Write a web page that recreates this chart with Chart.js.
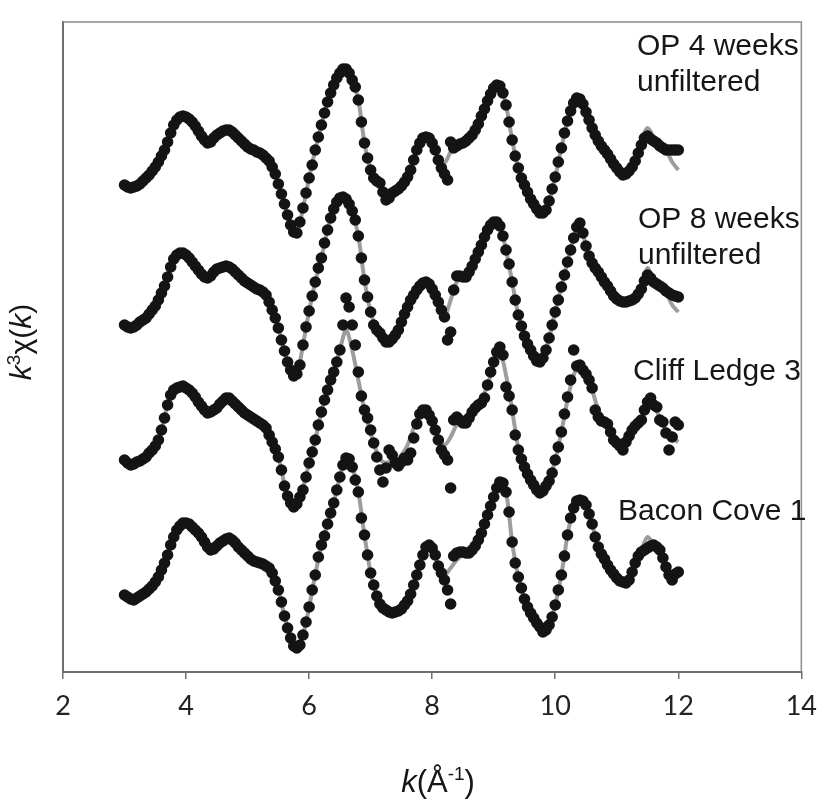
<!DOCTYPE html>
<html lang="en">
<head>
  <meta charset="UTF-8">
  <title>k3 chi(k) - EXAFS</title>
  <script src="https://cdn.jsdelivr.net/npm/chart.js"></script>
  <style>
    html, body {
      margin: 0;
      background: #fff;
    }
    #wrap {
      width: 828px;
      height: 808px;
    }
  </style>
</head>
<body>
  <div id="wrap">
    <canvas id="exafs" width="828" height="808"></canvas>
  </div>

  <script>
    // k grid: data every 0.05, fit every 0.1, both from 3.0 to 12.0
    const kStart = 3.0;
    const kStepData = 0.05;
    const kStepFit = 0.1;

    const xTicks = [2, 4, 6, 8, 10, 12, 14];

    const sampleLabels = [
      ['OP 4 weeks', 'unfiltered'],
      ['OP 8 weeks', 'unfiltered'],
      ['Cliff Ledge 3'],
      ['Bacon Cove 1']
    ];

    // vertical stacking offsets of each spectrum
    const offsets = [52.2, 37.2, 22.2, 7.2];

    // measured k3chi(k), OP 4 weeks unfiltered
    const op4Data = [
      -3.5, -3.7, -3.8, -3.7, -3.6, -3.4, -3.1, -2.8, -2.5, -2.1,
      -1.7, -1.2, -0.6, 0, 0.8, 1.7, 2.5, 3.0, 3.3, 3.4,
      3.3, 3.1, 2.8, 2.4, 1.9, 1.4, 1.0, 0.7, 0.8, 1.2,
      1.5, 1.7, 1.9, 2.0, 2.0, 1.8, 1.5, 1.2, 0.9, 0.6,
      0.3, 0.1, 0, -0.2, -0.3, -0.5, -0.8, -1.1, -1.7, -2.4,
      -3.4, -4.4, -5.4, -6.5, -7.5, -8.2, -8.3, -7.2, -5.8, -4.3,
      -2.8, -1.5, 0, 1.3, 2.5, 3.7, 4.8, 5.7, 6.5, 7.2,
      7.7, 8.1, 8.1, 7.7, 7.0, 6.3, 5.0, 2.8, 0.7, -0.8,
      -2.0, -2.8, -3.1, -3.3, -4.2, -5.0, -4.8, -4.3, -4.1, -3.9,
      -3.6, -3.2, -2.7, -2.0, -1.0, 0, 0.7, 1.2, 1.3, 1.2,
      0.7, 0, -1.0, -1.8, -2.4, -3.0, 0.8, 0.2, 0.4, 0.6,
      0.7, 0.9, 1.2, 1.5, 2.0, 2.6, 3.4, 4.1, 4.9, 5.6,
      6.2, 6.5, 6.4, 5.7, 4.5, 2.8, 1.0, -0.6, -1.8, -2.8,
      -3.5, -4.2, -4.9, -5.4, -5.9, -6.3, -6.3, -6.0, -5.1, -3.9,
      -2.7, -1.2, 0.2, 1.7, 2.9, 3.9, 4.7, 5.2, 5.1, 4.6,
      3.8, 3.0, 2.2, 1.5, 0.9, 0.4, 0, -0.4, -0.9, -1.4,
      -1.8, -2.2, -2.5, -2.4, -2.1, -1.7, -1.1, -0.3, 0.5, 1.2,
      1.4, 1.1, 0.9, 0.7, 0.4, 0.2, 0, 0, 0, 0,
      0
    ];

    // measured k3chi(k), OP 8 weeks unfiltered
    const op8Data = [
      -2.5, -2.7, -2.8, -2.7, -2.5, -2.2, -2.0, -1.8, -1.4, -1.0,
      -0.6, 0, 0.7, 1.4, 2.3, 3.3, 4.1, 4.5, 4.7, 4.7,
      4.5, 4.2, 3.8, 3.4, 3.0, 2.6, 2.3, 2.2, 2.4, 2.8,
      3.1, 3.2, 3.3, 3.4, 3.3, 3.1, 2.8, 2.5, 2.2, 1.9,
      1.7, 1.5, 1.3, 1.1, 1.0, 0.8, 0.5, -0.2, -1.0, -1.8,
      -2.8, -4.0, -5.1, -6.2, -7.0, -7.6, -7.4, -6.5, -4.5, -2.7,
      -1.1, 0.4, 1.8, 3.2, 4.2, 5.7, 7.0, 8.2, 9.1, 9.8,
      10.2, 10.3, 10.1, 9.6, 8.9, 8.0, 6.4, 4.2, 2.0, 0.3,
      -1.2, -2.5, -3.0, -3.3, -3.8, -4.2, -4.2, -3.9, -3.5, -3.0,
      -2.2, -1.4, -0.7, 0, 0.5, 1.0, 1.4, 1.7, 1.8, 1.6,
      1.1, 0.5, -0.2, -1.0, -1.7, -4.0, -3.2, 1.0, 2.4, 2.4,
      2.3, 2.3, 2.8, 3.4, 4.1, 4.8, 5.5, 6.3, 7.0, 7.5,
      7.8, 7.8, 7.4, 6.4, 5.0, 3.6, 1.8, 0, -1.5, -2.6,
      -3.6, -4.4, -5.0, -5.6, -6.1, -6.2, -5.8, -5.0, -3.8, -2.5,
      -1.2, 0, 1.3, 2.5, 3.8, 5.0, 6.2, 7.3, 7.7, 6.7,
      5.4, 4.4, 3.7, 3.2, 2.8, 2.3, 1.8, 1.4, 0.9, 0.4,
      0.1, -0.1, -0.2, -0.2, -0.1, 0, 0.2, 0.6, 1.1, 1.9,
      2.5, 2.2, 1.8, 1.6, 1.4, 1.2, 0.9, 0.7, 0.5, 0.4,
      0.3
    ];

    // measured k3chi(k), Cliff Ledge 3
    const cliffData = [
      -1.0, -1.3, -1.5, -1.4, -1.2, -1.1, -0.9, -0.7, -0.3, 0,
      0.4, 1.0, 2.0, 3.2, 4.5, 5.5, 6.0, 6.2, 6.3, 6.4,
      6.2, 6.0, 5.7, 5.3, 4.8, 4.4, 4.0, 3.7, 3.8, 4.0,
      4.2, 4.6, 4.9, 5.2, 5.2, 4.9, 4.6, 4.3, 4.0, 3.7,
      3.5, 3.3, 3.1, 2.9, 2.7, 2.5, 2.2, 1.5, 0.8, 0.1,
      -0.7, -2.0, -3.6, -4.6, -5.3, -5.7, -5.4, -4.7, -4.0, -2.7,
      -1.3, -0.2, 1.0, 2.5, 3.8, 5.0, 6.0, 7.0, 7.8, 8.8,
      10.0, 12.5, 15.2, 14.3, 12.5, 10.5, 7.8, 5.4, 4.0, 3.2,
      2.0, 0.7, -0.7, -2.0, -3.2, -1.8, 0, -0.5, -1.3, -1.6,
      -1.2, -0.8, -1.0, -0.3, 1.2, 2.6, 3.6, 4.0, 4.0, 3.5,
      2.9, 2.0, 1.0, 0, -0.5, -1.0, -3.8, 3.0, 3.3, 3.0,
      2.7, 2.7, 3.2, 3.8, 4.2, 4.5, 4.7, 5.2, 6.5, 7.8,
      8.8, 9.8, 10.3, 9.5, 6.3, 5.4, 4.0, 1.5, 0, -0.9,
      -1.7, -2.4, -3.0, -3.5, -4.0, -4.3, -4.1, -3.6, -3.1, -2.3,
      -1.0, 0.3, 1.8, 3.6, 5.3, 7.0, 10.0, 8.4, 8.5, 8.0,
      7.6, 7.0, 6.2, 4.0, 3.3, 2.9, 2.8, 2.6, 1.8, 1.0,
      0.7, 0.4, 0, 0.8, 1.4, 2.0, 2.4, 2.7, 3.0, 4.0,
      4.8, 5.2, 4.5, 4.3, 3.0, 2.8, 1.7, 0, 1.3, 2.8,
      2.5
    ];

    // measured k3chi(k), Bacon Cove 1
    const baconData = [
      0.5, 0.3, 0.1, 0, 0.2, 0.4, 0.6, 0.8, 1.1, 1.4,
      1.8, 2.3, 3.0, 3.7, 4.5, 5.5, 6.3, 7.0, 7.4, 7.7,
      7.7, 7.6, 7.3, 7.0, 6.7, 6.3, 5.8, 5.3, 5.0, 5.1,
      5.4, 5.7, 5.9, 6.1, 6.2, 6.0, 5.7, 5.3, 5.0, 4.7,
      4.4, 4.1, 3.9, 3.8, 3.7, 3.6, 3.4, 3.2, 2.7, 1.9,
      1.0, -0.2, -1.6, -2.8, -3.8, -4.6, -4.8, -4.5, -3.5, -2.2,
      -0.7, 1.0, 2.5, 4.3, 5.5, 6.4, 7.6, 8.7, 9.7, 11.0,
      12.3, 13.5, 14.2, 14.1, 13.3, 12.0, 10.8, 8.2, 6.5, 4.5,
      2.7, 1.5, 0.4, -0.4, -0.8, -1.0, -1.2, -1.3, -1.2, -1.1,
      -0.9, -0.5, -0.1, 0.6, 1.5, 2.5, 3.5, 4.5, 5.3, 5.5,
      5.2, 4.5, 3.4, 2.7, 2.0, 1.0, -0.4, 4.4, 4.7, 4.8,
      4.8, 4.7, 4.7, 5.0, 5.4, 6.0, 6.7, 7.6, 8.5, 9.4,
      10.3, 11.2, 11.8, 11.7, 10.8, 8.8, 5.8, 3.7, 2.3, 1.2,
      0.1, -0.7, -1.3, -1.8, -2.3, -2.7, -3.2, -3.0, -2.5, -1.7,
      -0.5, 1.0, 2.5, 4.4, 6.5, 8.2, 9.2, 9.9, 10.0, 9.9,
      9.5, 8.6, 7.6, 6.3, 5.3, 4.6, 4.1, 3.5, 3.0, 2.6,
      2.2, 1.9, 1.8, 1.7, 2.0, 2.8, 3.7, 4.4, 4.8, 5.0,
      5.2, 5.4, 5.5, 5.3, 5.0, 4.2, 3.3, 2.5, 2.0, 2.6,
      2.8
    ];

    // fitted curves (grey lines)
    const op4Fit = [
      -3.5, -3.8, -3.6, -3.1, -2.5, -1.7, -0.6, 0.8, 2.5, 3.3,
      3.3, 2.8, 1.9, 1.0, 0.8, 1.5, 1.9, 2.0, 1.5, 0.9,
      0.3, 0, -0.3, -0.8, -1.7, -3.4, -5.4, -7.5, -8.3, -5.8,
      -2.8, 0, 2.5, 4.8, 6.5, 7.7, 8.1, 7.0, 5.0, 0.7,
      -2.0, -3.1, -3.8, -4.2, -4.0, -3.6, -2.7, -1.0, 0.7, 1.3,
      0.7, -0.8, -1.3, -0.2, 0.4, 0.7, 1.2, 2.0, 3.4, 4.9,
      6.2, 6.4, 4.5, 1.0, -1.8, -3.5, -4.9, -5.9, -6.3, -5.1,
      -2.7, 0.2, 2.9, 4.7, 5.1, 3.8, 2.2, 0.9, 0, -0.9,
      -1.8, -2.5, -2.1, -1.1, 1.0, 2.2, 1.3, 0.5, 0, -1.2,
      -2.0
    ];
    const op8Fit = [
      -2.5, -2.8, -2.5, -2.0, -1.4, -0.6, 0.7, 2.3, 4.1, 4.7,
      4.5, 3.8, 3.0, 2.3, 2.4, 3.1, 3.3, 3.3, 2.8, 2.2,
      1.7, 1.3, 1.0, 0.5, -1.0, -2.8, -5.1, -7.0, -7.4, -4.5,
      -1.1, 1.8, 4.2, 7.0, 9.1, 10.2, 10.1, 8.9, 6.4, 2.0,
      -1.2, -3.0, -3.8, -4.2, -3.5, -2.2, -0.7, 0.5, 1.4, 1.8,
      1.1, -0.2, -1.7, 0, 1.8, 2.3, 2.8, 4.1, 5.5, 7.0,
      7.8, 7.4, 5.0, 1.8, -1.5, -3.6, -5.0, -6.1, -5.8, -3.8,
      -1.2, 1.3, 3.8, 6.2, 7.7, 5.4, 3.7, 2.8, 1.8, 0.9,
      0.1, -0.2, -0.1, 0.2, 1.3, 3.2, 1.8, 1.4, 0.8, -0.5,
      -1.2
    ];
    const cliffFit = [
      -1.0, -1.5, -1.2, -0.9, -0.3, 0.4, 2.0, 4.5, 6.0, 6.3,
      6.2, 5.7, 4.8, 4.0, 3.8, 4.2, 4.9, 5.2, 4.6, 4.0,
      3.5, 3.1, 2.7, 2.2, 0.8, -0.7, -3.4, -5.2, -5.4, -3.8,
      -1.3, 1.0, 3.8, 6.0, 7.8, 10.0, 12.0, 10.0, 7.0, 4.0,
      1.7, -0.2, -1.2, -1.2, -1.0, -0.5, 0.5, 2.2, 3.7, 4.0,
      3.0, 1.4, 0.5, 1.3, 2.5, 2.8, 3.2, 4.2, 5.0, 6.5,
      8.5, 9.8, 7.5, 4.0, 0.2, -1.7, -3.0, -4.0, -4.0, -3.0,
      -1.0, 1.8, 5.0, 7.5, 8.4, 7.6, 6.0, 4.0, 2.8, 1.8,
      0.8, 0.4, 1.4, 2.4, 3.2, 4.5, 4.4, 3.2, 2.0, 1.2,
      0.8
    ];
    const baconFit = [
      0.5, 0.1, 0.2, 0.6, 1.1, 1.8, 3.0, 4.5, 6.3, 7.4,
      7.7, 7.3, 6.7, 5.8, 5.0, 5.4, 5.9, 6.2, 5.7, 5.0,
      4.4, 3.9, 3.7, 3.4, 2.7, 1.0, -1.6, -3.8, -4.8, -3.5,
      -0.7, 2.5, 5.5, 7.6, 9.7, 12.3, 14.2, 13.3, 10.8, 6.5,
      2.7, 0.4, -0.8, -1.2, -1.2, -0.9, -0.1, 1.5, 3.5, 5.3,
      5.2, 3.4, 2.5, 3.2, 4.0, 4.5, 4.7, 5.4, 6.7, 8.5,
      10.3, 11.8, 10.8, 5.8, 2.3, 0.1, -1.3, -2.3, -3.2, -2.5,
      -0.5, 2.5, 6.5, 9.2, 10.0, 9.5, 7.6, 5.3, 4.1, 3.0,
      2.2, 1.8, 2.0, 3.7, 5.0, 6.3, 5.6, 5.0, 3.3, 2.2,
      2.5
    ];

    const dataSeries = [op4Data, op8Data, cliffData, baconData];
    const fitSeries = [op4Fit, op8Fit, cliffFit, baconFit];

    function toPoints(values, step, offset) {
      return values.map((v, i) => ({
        x: +(kStart + i * step).toFixed(2),
        y: v + offset
      }));
    }

    const datasets = [];
    fitSeries.forEach((vals, i) => {
      datasets.push({
        label: sampleLabels[i].join(' ') + ' fit',
        data: toPoints(vals, kStepFit, offsets[i]),
        showLine: true,
        borderColor: '#9d9d9d',
        borderWidth: 4,
        pointRadius: 0,
        tension: 0.3,
        order: 2
      });
    });
    dataSeries.forEach((vals, i) => {
      datasets.push({
        label: sampleLabels[i].join(' '),
        data: toPoints(vals, kStepData, offsets[i]),
        showLine: false,
        pointRadius: 5.8,
        pointBackgroundColor: '#141414',
        pointBorderWidth: 0,
        order: 1
      });
    });

    const FONT = '"Liberation Sans", Arial, sans-serif';

    // draws a run of text pieces (italic / superscript) centred on x
    function drawRich(ctx, pieces, x, y, size) {
      const fontOf = p => (p.italic ? 'italic ' : '') + Math.round(p.sup ? size * 0.62 : size) + 'px ' + FONT;
      let w = 0;
      pieces.forEach(p => { ctx.font = fontOf(p); w += ctx.measureText(p.t).width; });
      let cx = x - w / 2;
      pieces.forEach(p => {
        ctx.font = fontOf(p);
        ctx.fillText(p.t, cx, p.sup ? y - size * 0.38 : y);
        cx += ctx.measureText(p.t).width;
      });
    }

    const decorPlugin = {
      id: 'decor',
      afterDraw(chart) {
        const ctx = chart.ctx;
        const a = chart.chartArea;
        ctx.save();

        // plot area frame (top and right)
        ctx.strokeStyle = '#8c8c8c';
        ctx.lineWidth = 1.5;
        ctx.beginPath();
        ctx.moveTo(a.left, a.top);
        ctx.lineTo(a.right, a.top);
        ctx.lineTo(a.right, a.bottom);
        ctx.stroke();

        // sample names
        ctx.fillStyle = '#161616';
        ctx.textAlign = 'left';
        ctx.textBaseline = 'alphabetic';
        ctx.font = '30px ' + FONT;
        const labelAt = [[637, 55], [638, 228], [633, 380], [618, 520]];
        sampleLabels.forEach((lines, i) => {
          lines.forEach((t, j) => {
            ctx.fillText(t, labelAt[i][0], labelAt[i][1] + j * 36);
          });
        });

        // x axis title
        drawRich(ctx, [
          { t: 'k', italic: true },
          { t: '(Å' },
          { t: '-1', sup: true },
          { t: ')' }
        ], 438, 792, 31);

        // y axis title
        ctx.translate(21, 342);
        ctx.rotate(-Math.PI / 2);
        drawRich(ctx, [
          { t: 'k', italic: true },
          { t: '3', sup: true },
          { t: 'χ(' },
          { t: 'k', italic: true },
          { t: ')' }
        ], 0, 10, 30);

        ctx.restore();
      }
    };

    new Chart(document.getElementById('exafs'), {
      type: 'scatter',
      data: { datasets: datasets },
      options: {
        responsive: false,
        animation: false,
        devicePixelRatio: 1,
        layout: { padding: { top: 22, right: 20, left: 0, bottom: 0 } },
        plugins: {
          legend: { display: false },
          tooltip: { enabled: false }
        },
        scales: {
          x: {
            type: 'linear',
            min: xTicks[0],
            max: xTicks[xTicks.length - 1],
            afterFit: s => { s.height = 136; },
            afterBuildTicks: s => { s.ticks = xTicks.map(v => ({ value: v })); },
            ticks: {
              color: '#222',
              padding: 11,
              font: { family: 'Lato', size: 27 }
            },
            grid: {
              drawOnChartArea: false,
              drawTicks: true,
              tickLength: 7,
              color: '#6e6e6e',
              lineWidth: 1.5
            },
            border: { display: true, color: '#6e6e6e', width: 2 }
          },
          y: {
            min: 0,
            max: 65,
            afterFit: s => { s.width = 63; },
            ticks: { display: false },
            grid: { display: false },
            border: { display: true, color: '#6e6e6e', width: 2 }
          }
        }
      },
      plugins: [decorPlugin]
    });
  </script>
</body>
</html>
